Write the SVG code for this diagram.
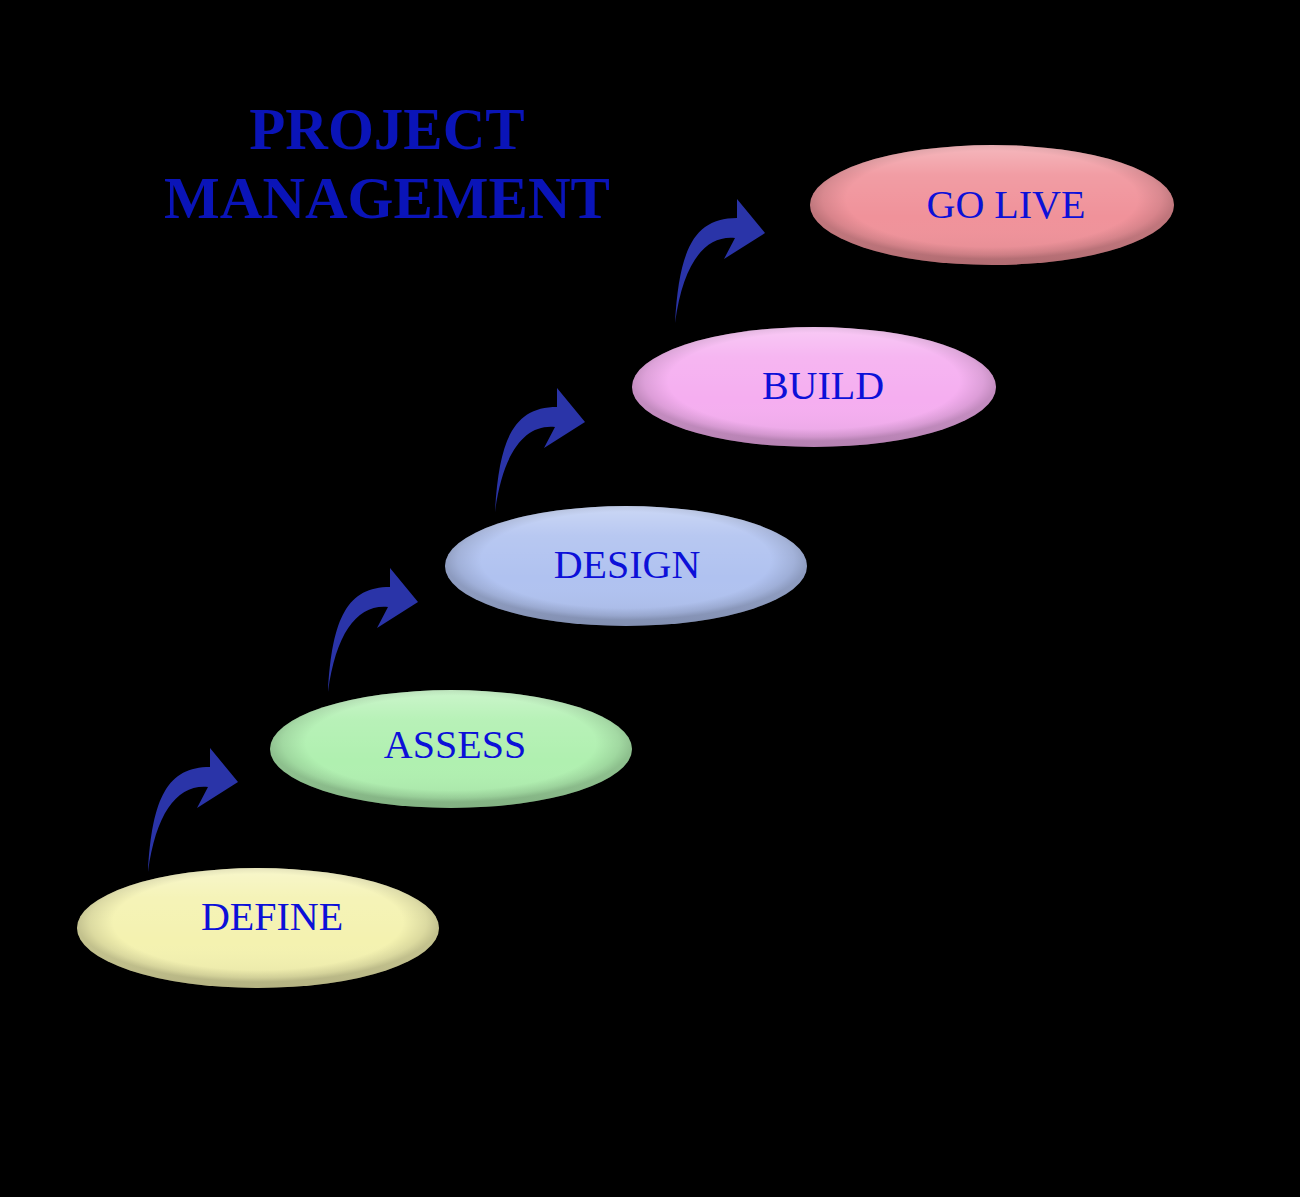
<svg xmlns="http://www.w3.org/2000/svg" width="1300" height="1197" viewBox="0 0 1300 1197">
<defs>
<style>
.title{font-family:"Liberation Serif","Times New Roman",serif;font-weight:bold;font-size:59px;fill:#0a14b8;text-anchor:middle}
.lbl{font-family:"Liberation Serif","Times New Roman",serif;font-size:40px;fill:#0c10d8;text-anchor:middle}
.arrow{fill:#2a34a8}
.rim{fill:url(#rim)}
.hl{fill:url(#hl)}
</style>
<radialGradient id="rim" cx="0.5" cy="0.45" r="0.5">
<stop offset="0" stop-color="#000" stop-opacity="0"/>
<stop offset="0.8" stop-color="#000" stop-opacity="0"/>
<stop offset="0.93" stop-color="#000" stop-opacity="0.1"/>
<stop offset="1" stop-color="#000" stop-opacity="0.2"/>
</radialGradient>
<linearGradient id="hl" x1="0" y1="0" x2="0" y2="1">
<stop offset="0" stop-color="#fff" stop-opacity="0.35"/>
<stop offset="0.25" stop-color="#fff" stop-opacity="0.1"/>
<stop offset="0.6" stop-color="#fff" stop-opacity="0"/>
<stop offset="1" stop-color="#000" stop-opacity="0.08"/>
</linearGradient>
<path id="arr" d="M0,0 C4,-75 20,-105 62,-105 L62,-124 L90,-90 L49,-64 L60,-85 C30,-88 8,-60 0,0 Z"/>
</defs>
<rect x="0" y="0" width="1300" height="1197" fill="#000"/>
<g id="title">
<text class="title" x="387" y="149">PROJECT</text>
<text class="title" x="387" y="218">MANAGEMENT</text>
</g>
<g id="connectors" class="arrow">
<use href="#arr" x="148" y="872"/>
<use href="#arr" x="328" y="692"/>
<use href="#arr" x="495" y="512"/>
<use href="#arr" x="675" y="323"/>
</g>
<g id="define">
<ellipse cx="258" cy="928" rx="181" ry="60" fill="#f4f2b0"/>
<ellipse class="hl" cx="258" cy="928" rx="181" ry="60"/>
<ellipse class="rim" cx="258" cy="928" rx="181" ry="60"/>
<text class="lbl" x="272" y="930">DEFINE</text>
</g>
<g id="assess">
<ellipse cx="451" cy="749" rx="181" ry="59" fill="#b0f0b0"/>
<ellipse class="hl" cx="451" cy="749" rx="181" ry="59"/>
<ellipse class="rim" cx="451" cy="749" rx="181" ry="59"/>
<text class="lbl" x="455" y="758">ASSESS</text>
</g>
<g id="design">
<ellipse cx="626" cy="566" rx="181" ry="60" fill="#b0c2f0"/>
<ellipse class="hl" cx="626" cy="566" rx="181" ry="60"/>
<ellipse class="rim" cx="626" cy="566" rx="181" ry="60"/>
<text class="lbl" x="627" y="578">DESIGN</text>
</g>
<g id="build">
<ellipse cx="814" cy="387" rx="182" ry="60" fill="#f5aef0"/>
<ellipse class="hl" cx="814" cy="387" rx="182" ry="60"/>
<ellipse class="rim" cx="814" cy="387" rx="182" ry="60"/>
<text class="lbl" x="823" y="399">BUILD</text>
</g>
<g id="golive">
<ellipse cx="992" cy="205" rx="182" ry="60" fill="#f0929a"/>
<ellipse class="hl" cx="992" cy="205" rx="182" ry="60"/>
<ellipse class="rim" cx="992" cy="205" rx="182" ry="60"/>
<text class="lbl" x="1006" y="218">GO LIVE</text>
</g>
</svg>
